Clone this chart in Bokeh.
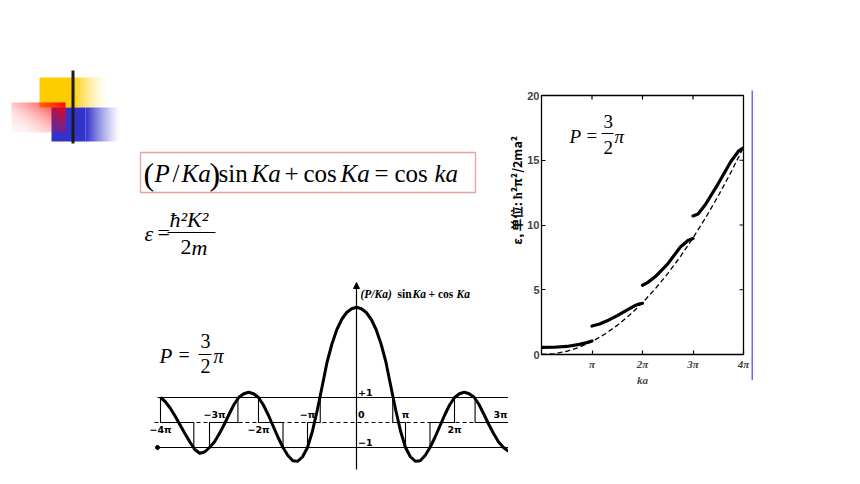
import numpy as np
from bokeh.plotting import figure
from bokeh.models import Range1d, FixedTicker, Spacer, Arrow, NormalHead
from bokeh.layouts import row, column
from bokeh.core.properties import value
from bokeh.embed import file_html
from bokeh.resources import INLINE

# ---------------- data ----------------
# Kronig-Penney function (P/Ka) sin Ka + cos Ka  (Ka in units of pi)
ka_pi = [-4.0, -3.9, -3.8, -3.7, -3.6, -3.5, -3.4, -3.3, -3.2, -3.1,
         -3.0, -2.9, -2.8, -2.7, -2.6, -2.5, -2.4, -2.3, -2.2, -2.1,
         -2.0, -1.9, -1.8, -1.7, -1.6, -1.5, -1.4, -1.3, -1.2, -1.1,
         -1.0, -0.9, -0.8, -0.7, -0.6, -0.5, -0.4, -0.3, -0.2, -0.1,
         0.0,
         0.1, 0.2, 0.3, 0.4, 0.5, 0.6, 0.7, 0.8, 0.9, 1.0,
         1.1, 1.2, 1.3, 1.4, 1.5, 1.6, 1.7, 1.8, 1.9, 2.0,
         2.1, 2.2, 2.3, 2.4, 2.5, 2.6, 2.7, 2.8, 2.9, 3.0,
         3.1]
kp_f = [1.00, 0.83, 0.57, 0.25, -0.10, -0.45, -0.78, -1.08, -1.23, -1.18,
        -1.00, -0.78, -0.45, -0.08, 0.33, 0.72, 1.01, 1.15, 1.21, 1.15,
        1.00, 0.70, 0.30, -0.15, -0.60, -1.00, -1.32, -1.53, -1.55, -1.37,
        -1.00, -0.35, 0.50, 1.45, 2.42, 3.15, 3.72, 4.13, 4.40, 4.55,
        4.61,
        4.55, 4.40, 4.13, 3.72, 3.15, 2.42, 1.45, 0.50, -0.35, -1.00,
        -1.37, -1.55, -1.53, -1.32, -1.00, -0.60, -0.15, 0.30, 0.70, 1.00,
        1.15, 1.21, 1.15, 1.01, 0.72, 0.33, -0.08, -0.45, -0.78, -1.00,
        -1.15]
# allowed / forbidden band indicator (step): edges in units of pi, level
band_edge = [-4.0, -4.0, -3.32, -3.0, -2.42, -2.0, -1.5, -1.0, -0.74, 0.74, 1.0, 1.5, 2.0, 2.42, 3.1]
band_level = [1, 0, -1, 0, 1, 0, -1, 0, 1, 0, -1, 0, 1, 0, 0]
kp_limits = [1, -1]
kp_limit_text = ["+1", "\u22121"]
kp_tick_pos = [-4, -3, -2, -1, 0, 1, 2, 3]
kp_tick_text = ["\u22124\u03c0", "\u22123\u03c0", "\u22122\u03c0", "\u2212\u03c0", "0", "\u03c0", "2\u03c0", "3\u03c0"]
kp_tick_below = [True, False, True, False, False, False, True, False]

# Energy bands (epsilon in units of hbar^2 pi^2 / 2 m a^2) vs ka (units of pi)
band1_x = [0.0, 0.25, 0.5, 0.75, 0.9, 1.0]
band1_e = [0.55, 0.56, 0.62, 0.78, 0.92, 1.05]
band2_x = [1.0, 1.15, 1.3, 1.5, 1.7, 1.85, 1.95, 2.0]
band2_e = [2.2, 2.35, 2.6, 3.0, 3.45, 3.78, 3.92, 3.95]
band3_x = [2.0, 2.1, 2.25, 2.5, 2.75, 2.9, 3.0]
band3_e = [5.35, 5.55, 6.0, 7.0, 8.3, 8.8, 8.95]
band4_x = [3.0, 3.1, 3.25, 3.5, 3.75, 3.9, 4.0]
band4_e = [10.7, 10.85, 11.6, 13.2, 14.9, 15.7, 15.96]
free_x = [0.0, 0.25, 0.5, 0.75, 1.0, 1.25, 1.5, 1.75, 2.0, 2.25, 2.5, 2.75, 3.0, 3.25, 3.5, 3.75, 4.0]
free_e = [0.0, 0.06, 0.25, 0.56, 1.0, 1.56, 2.25, 3.06, 4.0, 5.06, 6.25, 7.56, 9.0, 10.56, 12.25, 14.06, 16.0]
e_ticks = [0, 5, 10, 15, 20]
ka_ticks = [1, 2, 3, 4]
ka_tick_text = ["\u03c0", "2\u03c0", "3\u03c0", "4\u03c0"]
e_label = "\u03b5, \u5355\u4f4d: \u0127\u00b2\u03c0\u00b2/2ma\u00b2"

SERIF = "Liberation Serif"
SHIFT = 0.33   # empirical baseline correction (fraction of font size)


def txt(p, fx, fy, wx, wy, s, size, style="normal", font=SERIF, align="left", baseline="alphabetic"):
    """place a text at page-pixel position (wx, wy) through the figure's data converters"""
    p.text(x=[fx(wx)], y=[fy(wy - SHIFT * size)], text=[s], text_font=value(font),
           text_font_size=f"{size}px", text_font_style=style, text_align=align,
           text_baseline=baseline, text_color="black")


def bare(p):
    p.grid.visible = False
    p.outline_line_color = None
    p.background_fill_color = "white"
    p.border_fill_color = "white"


def gradient(w, h, rgb, alpha):
    img = np.empty((h, w), dtype=np.uint32)
    v = img.view(dtype=np.uint8).reshape((h, w, 4))
    v[..., 0] = rgb[0]
    v[..., 1] = rgb[1]
    v[..., 2] = rgb[2]
    v[..., 3] = (np.clip(alpha, 0, 1) * 255).astype(np.uint8)
    return img


# ---------------- top-left: decoration and formulas (page pixel coords, y negated) ----------------
def TX(wx):
    return wx


def TY(wy):
    return -wy


pt = figure(width=508, height=278, x_range=Range1d(0, 508), y_range=Range1d(-278, 0),
            output_backend="svg", toolbar_location=None, x_axis_location=None, y_axis_location=None,
            min_border=0)
bare(pt)

# yellow block + fade
pt.quad(left=39, right=72, top=-77, bottom=-107, fill_color="#FFCC00", line_color=None)
w, h = 38, 30
u = np.tile(np.linspace(0, 1, w), (h, 1))
pt.image_rgba(image=[gradient(w, h, (255, 204, 0), (1 - u) ** 1.6)], x=72, y=-107, dw=w, dh=h)
# blue block + fade
pt.quad(left=51, right=85, top=-107, bottom=-141, fill_color="#3333CC", line_color=None)
w, h = 36, 34
u = np.tile(np.linspace(0, 1, w), (h, 1))
pt.image_rgba(image=[gradient(w, h, (51, 51, 204), (1 - u) ** 1.3)], x=85, y=-141, dw=w, dh=h)
# red diagonal fade
w, h = 54, 30
u = np.tile(np.linspace(0, 1, w), (h, 1))
vv = np.tile(np.linspace(0, 1, h)[:, None], (1, w))
pt.image_rgba(image=[gradient(w, h, (255, 0, 0), 0.04 + 0.96 * (0.55 * u + 0.45 * vv) ** 2.0)],
              x=11, y=-132, dw=w, dh=h)
# black bar
pt.quad(left=71, right=74, top=-70, bottom=-143, fill_color="#1A1A1A", line_color=None)

# boxed equation
pt.quad(left=140, right=475, top=-152, bottom=-192, fill_color=None, line_color="#E8A0A0", line_width=1.3)
FS = 25
BL = 181
txt(pt, TX, TY, 143, BL + 3, "(", 32)
txt(pt, TX, TY, 154, BL, "P", FS, "italic")
txt(pt, TX, TY, 172, BL, "/", FS)
txt(pt, TX, TY, 181, BL, "Ka", FS, "italic")
txt(pt, TX, TY, 209, BL + 3, ")", 32)
txt(pt, TX, TY, 218, BL, "sin", FS)
txt(pt, TX, TY, 251, BL, "Ka", FS, "italic")
txt(pt, TX, TY, 284, BL, "+", FS)
txt(pt, TX, TY, 303, BL, "cos", FS)
txt(pt, TX, TY, 340, BL, "Ka", FS, "italic")
txt(pt, TX, TY, 374, BL, "=", FS)
txt(pt, TX, TY, 394, BL, "cos", FS)
txt(pt, TX, TY, 434, BL, "ka", FS, "italic")

# epsilon = hbar^2 K^2 / 2m
txt(pt, TX, TY, 144, 240, "\u03b5", 22, "italic")
txt(pt, TX, TY, 157, 239, "=", 22)
txt(pt, TX, TY, 169, 226, "\u0127\u00b2K\u00b2", 22, "italic")
pt.segment(x0=[167], y0=[-232], x1=[215], y1=[-232], line_color="black", line_width=1)
txt(pt, TX, TY, 180, 254, "2", 22)
txt(pt, TX, TY, 191, 254, "m", 22, "italic")

# ---------------- bottom-left: Kronig-Penney function ----------------
def KX(wx):
    return (wx - 356) / 49.0


def KY(wy):
    return (422 - wy) / 25.0


pk = figure(width=508, height=206, x_range=Range1d(KX(0), KX(508)), y_range=Range1d(KY(484), KY(278)),
            output_backend="svg", toolbar_location=None, x_axis_location=None, y_axis_location=None,
            min_border=0)
bare(pk)

pk.segment(x0=[KX(157)] * 2, y0=kp_limits, x1=[KX(508)] * 2, y1=kp_limits, line_color="black", line_width=1.2)
pk.segment(x0=[KX(154)], y0=[0], x1=[KX(508)], y1=[0], line_color="black", line_width=1.1, line_dash="4 3")
pk.step(band_edge, band_level, mode="after", line_color="black", line_width=1.1)
pk.add_layout(Arrow(end=NormalHead(size=6, fill_color="black", line_color="black", line_width=1),
                    x_start=0, y_start=KY(469), x_end=0, y_end=KY(282),
                    line_color="black", line_width=1.2))
pk.line(ka_pi, kp_f, line_color="black", line_width=3, line_join="round")
pk.scatter([KX(157)], [kp_limits[1]], size=4, color="black")

LF = "DejaVu Sans"
for xp, t, below in zip(kp_tick_pos, kp_tick_text, kp_tick_below):
    wx = 356 + 49 * xp
    if below:
        txt(pk, KX, KY, wx, 427, t, 9.5, "bold", LF, "center", "top")
    elif t == "0":
        txt(pk, KX, KY, wx + 1.5, 417, t, 9.5, "bold", LF, "left")
    elif xp == kp_tick_pos[-1]:
        txt(pk, KX, KY, 507, 417, t, 9.5, "bold", LF, "right")
    else:
        txt(pk, KX, KY, wx + (5 if xp == -3 else 0), 417, t, 9.5, "bold", LF, "center")
for lv, t in zip(kp_limits, kp_limit_text):
    txt(pk, KX, KY, 357.5, 422 - 25 * lv - 1.5, t, 9.5, "bold", LF)

# title of the y axis
TT = 297
txt(pk, KX, KY, 360, TT, "(P/Ka)", 11.5, "bold italic")
txt(pk, KX, KY, 397, TT, "sin", 11.5, "bold")
txt(pk, KX, KY, 412, TT, "Ka", 11.5, "bold italic")
txt(pk, KX, KY, 428, TT, "+ cos", 11.5, "bold")
txt(pk, KX, KY, 456, TT, "Ka", 11.5, "bold italic")

# P = 3/2 pi
txt(pk, KX, KY, 159, 362, "P", 21, "italic")
txt(pk, KX, KY, 178, 361, "=", 20)
txt(pk, KX, KY, 200, 347, "3", 20)
pk.segment(x0=[KX(198)], y0=[KY(354)], x1=[KX(211)], y1=[KY(354)], line_color="black", line_width=1)
txt(pk, KX, KY, 200, 372, "2", 20)
txt(pk, KX, KY, 213, 362, "\u03c0", 20, "italic")

# ---------------- right: energy bands ----------------
def RX(wx):
    return (wx - 540) / 50.5


def RY(wy):
    return (354 - wy) / 12.95


# narrow strip carrying the rotated y-axis title (page x 508..524, y 85..386)
ylab = figure(width=16, height=301, x_range=Range1d(508, 524), y_range=Range1d(-386, -85),
              output_backend="svg", toolbar_location=None, x_axis_location=None, y_axis_location=None,
              min_border=0)
bare(ylab)
ylab.text(x=[515.5], y=[-196], text=[e_label], angle=np.pi / 2, text_align="center", text_baseline="middle",
          text_font=value("Noto Sans CJK SC"), text_font_size="12.5px", text_font_style="bold",
          text_line_height=1.0, text_color="black")

pr = figure(frame_width=202, frame_height=259, x_range=Range1d(0, 4), y_range=Range1d(0, 20),
            output_backend="svg", toolbar_location=None,
            min_border_left=16, min_border_right=8, min_border_top=10, min_border_bottom=32)
pr.grid.visible = False
pr.outline_line_color = "black"
pr.outline_line_width = 1.3
pr.background_fill_color = "white"
pr.border_fill_color = "white"

pr.xaxis.ticker = FixedTicker(ticks=ka_ticks)
pr.xaxis.major_label_overrides = {t: s for t, s in zip(ka_ticks, ka_tick_text)}
pr.yaxis.ticker = FixedTicker(ticks=e_ticks)
for ax in (pr.xaxis, pr.yaxis):
    ax.major_tick_in = 4
    ax.major_tick_out = 0
    ax.minor_tick_line_color = None
    ax.axis_line_color = None
    ax.major_tick_line_width = 1.2
    ax.major_label_standoff = 3
pr.yaxis.major_label_standoff = 2
pr.yaxis.major_label_text_font = "Liberation Sans"
pr.yaxis.major_label_text_font_style = "bold"
pr.yaxis.major_label_text_font_size = "11px"
pr.xaxis.major_label_text_font = SERIF
pr.xaxis.major_label_text_font_style = "bold italic"
pr.xaxis.major_label_text_font_size = "11px"
pr.xaxis.axis_label = "ka"
pr.xaxis.axis_label_text_font = SERIF
pr.xaxis.axis_label_text_font_style = "bold italic"
pr.xaxis.axis_label_text_font_size = "11px"
pr.xaxis.axis_label_standoff = 1

# inward ticks on the right and top edges of the frame
tick_dx = 4 / 50.5
tick_dy = 4 / 12.95
inner_e = e_ticks[1:-1]
pr.segment(x0=[ka_ticks[-1]] * len(inner_e), y0=inner_e, x1=[ka_ticks[-1] - tick_dx] * len(inner_e), y1=inner_e,
           line_color="black", line_width=1.2)
inner_k = ka_ticks[:-1]
pr.segment(x0=inner_k, y0=[e_ticks[-1]] * len(inner_k), x1=inner_k, y1=[e_ticks[-1] - tick_dy] * len(inner_k),
           line_color="black", line_width=1.2)

pr.line(free_x, free_e, line_color="black", line_width=1.3, line_dash="5 3")
for bx, be in ((band1_x, band1_e), (band2_x, band2_e), (band3_x, band3_e), (band4_x, band4_e)):
    pr.line(bx, be, line_color="black", line_width=3.2, line_cap="round", line_join="round")

txt(pr, RX, RY, 568, 142, "P", 19, "italic")
txt(pr, RX, RY, 585, 141, "=", 19)
txt(pr, RX, RY, 602, 127, "3", 19)
pr.segment(x0=[RX(600)], y0=[RY(133)], x1=[RX(612)], y1=[RY(133)], line_color="black", line_width=1)
txt(pr, RX, RY, 602, 153, "2", 19)
txt(pr, RX, RY, 613, 142, "\u03c0", 19, "italic")

# thin blue slide rule
pb = figure(width=2, height=290, output_backend="svg", toolbar_location=None,
            x_axis_location=None, y_axis_location=None, min_border=0)
pb.grid.visible = False
pb.outline_line_color = None
pb.background_fill_color = "#6B6BE6"
pb.border_fill_color = "#6B6BE6"

left_col = column(pt, pk)
right_col = column(Spacer(width=10, height=85),
                   row(ylab, pr, column(Spacer(width=2, height=5), pb)))
layout = row(left_col, right_col)

open("out.html", "w").write(file_html(layout, INLINE))
